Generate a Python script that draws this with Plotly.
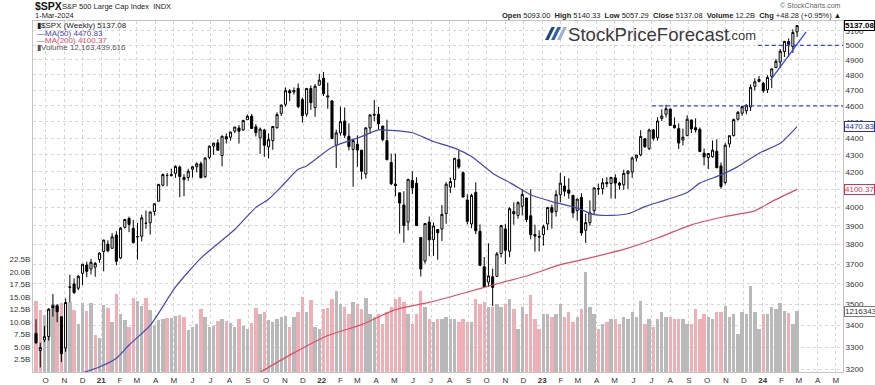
import math
import pandas as pd
import plotly.graph_objects as go

# ---------------- data (weekly) ----------------
week_end = pd.date_range("2020-09-18", "2024-03-01", freq="W-FRI")
prev_close_before = 3341.0

opens_2020 = [3363, 3285, 3333, 3349, 3493, 3493, 3441, 3296, 3583, 3600, 3579, 3653, 3695, 3675, 3684, 3723]
highs_2020 = [3429, 3320, 3398, 3482, 3550, 3502, 3441, 3529, 3646, 3628, 3645, 3699, 3712, 3726, 3711, 3760]
lows_2020 = [3317, 3209, 3323, 3330, 3441, 3415, 3233, 3279, 3511, 3550, 3569, 3594, 3634, 3647, 3636, 3707]
closes_2020 = [3319, 3298, 3348, 3477, 3484, 3465, 3270, 3509, 3585, 3558, 3638, 3699, 3663, 3709, 3703, 3756]

opens_2021 = [3764, 3803, 3781, 3851, 3731, 3892, 3939, 3886, 3842, 3844, 3914, 3916, 3977, 4034, 4124, 4179,
              4185, 4192, 4228, 4169, 4168, 4216, 4230, 4248, 4173, 4285, 4352, 4372, 4296, 4409, 4406, 4443,
              4462, 4450, 4513, 4535, 4469, 4402, 4449, 4348, 4385, 4463, 4553, 4610, 4697, 4689, 4712, 4640,
              4548, 4711, 4589, 4733]
highs_2021 = [3826, 3823, 3861, 3871, 3894, 3937, 3950, 3932, 3915, 3960, 3983, 3975, 4020, 4130, 4191, 4195,
              4219, 4238, 4237, 4187, 4218, 4234, 4256, 4261, 4287, 4355, 4372, 4393, 4415, 4429, 4440, 4468,
              4480, 4510, 4545, 4549, 4486, 4465, 4457, 4429, 4475, 4559, 4608, 4718, 4707, 4718, 4744, 4652,
              4713, 4731, 4740, 4808]
lows_2021 = [3663, 3760, 3781, 3694, 3725, 3885, 3866, 3805, 3723, 3817, 3884, 3853, 3955, 4034, 4118, 4118,
             4173, 4166, 4057, 4062, 4149, 4168, 4198, 4165, 4165, 4274, 4300, 4327, 4233, 4368, 4385, 4431,
             4367, 4444, 4513, 4457, 4410, 4306, 4288, 4278, 4330, 4460, 4537, 4595, 4630, 4672, 4585, 4495,
             4532, 4575, 4531, 4733]
closes_2021 = [3824, 3768, 3841, 3714, 3887, 3934, 3907, 3811, 3842, 3943, 3913, 3975, 4020, 4129, 4185, 4180,
               4181, 4232, 4174, 4156, 4204, 4230, 4247, 4166, 4281, 4352, 4370, 4327, 4412, 4395, 4437, 4468,
               4442, 4509, 4535, 4459, 4433, 4455, 4357, 4391, 4471, 4545, 4605, 4697, 4683, 4698, 4595, 4538,
               4712, 4620, 4726, 4766]

opens_2022 = [4778, 4656, 4632, 4357, 4432, 4505, 4412, 4332, 4363, 4328, 4188, 4462, 4541, 4547, 4474, 4385,
              4255, 4130, 4081, 4013, 3920, 4151, 4135, 3838, 3715, 3920, 3826, 3880, 3883, 3966, 4113, 4157,
              4272, 4196, 4041, 3910, 4083, 3871, 3686, 3609, 3636, 3638, 3754, 3883, 3766, 3978, 3956, 4006,
              4052, 3954, 3854, 3843]
highs_2022 = [4819, 4749, 4632, 4453, 4595, 4590, 4490, 4395, 4417, 4329, 4465, 4546, 4637, 4594, 4474, 4513,
              4308, 4308, 4082, 4090, 4158, 4204, 4169, 3838, 3913, 3950, 3918, 3880, 4013, 4141, 4167, 4281,
              4325, 4203, 4073, 4076, 4140, 3907, 3736, 3807, 3677, 3762, 3905, 3911, 4001, 4028, 4034, 4101,
              4052, 4101, 3906, 3876]
lows_2022 = [4663, 4582, 4395, 4223, 4415, 4401, 4327, 4115, 4230, 4157, 4162, 4425, 4503, 4450, 4381, 4267,
             4124, 4062, 3859, 3811, 3875, 4074, 3900, 3637, 3702, 3740, 3742, 3722, 3819, 3911, 4080, 4110,
             4218, 4057, 3907, 3887, 3856, 3694, 3585, 3585, 3492, 3634, 3734, 3699, 3735, 3906, 3938, 3956,
             3919, 3828, 3764, 3765]
closes_2022 = [4677, 4663, 4398, 4432, 4501, 4418, 4349, 4385, 4329, 4204, 4463, 4543, 4546, 4488, 4392, 4272,
               4132, 4123, 4024, 3901, 4158, 4109, 3901, 3675, 3912, 3825, 3899, 3863, 3962, 4130, 4145, 4280,
               4228, 4057, 3924, 4067, 3873, 3693, 3586, 3640, 3583, 3752, 3901, 3771, 3993, 3965, 4026, 4072,
               3934, 3852, 3845, 3840]

opens_2023 = [3853, 3910, 3999, 3978, 4070, 4119, 4097, 4067, 3982, 4055, 3876, 3917, 3982, 4102, 4105, 4140,
              4134, 4166, 4136, 4126, 4190, 4200, 4282, 4300, 4396, 4337, 4450, 4404, 4521, 4547, 4580, 4479,
              4458, 4389, 4415, 4511, 4464, 4454, 4310, 4284, 4289, 4321, 4235, 4139, 4365, 4415, 4516, 4554,
              4569, 4593, 4725, 4758]
highs_2023 = [3906, 4003, 4015, 4095, 4195, 4176, 4164, 4067, 4049, 4079, 3965, 4039, 4110, 4133, 4164, 4170,
              4170, 4187, 4143, 4213, 4210, 4290, 4299, 4448, 4401, 4458, 4456, 4528, 4578, 4607, 4584, 4527,
              4490, 4458, 4541, 4514, 4522, 4465, 4338, 4311, 4386, 4393, 4255, 4370, 4415, 4520, 4568, 4598,
              4610, 4738, 4778, 4793]
lows_2023 = [3795, 3877, 3885, 3950, 4029, 4062, 4048, 3943, 3928, 3847, 3809, 3900, 3960, 4069, 4072, 4113,
             4049, 4048, 4099, 4098, 4103, 4166, 4261, 4292, 4341, 4328, 4385, 4385, 4505, 4527, 4474, 4458,
             4335, 4356, 4414, 4431, 4434, 4316, 4238, 4217, 4283, 4223, 4104, 4128, 4344, 4411, 4507, 4537,
             4547, 4568, 4699, 4751]
closes_2023 = [3895, 3999, 3973, 4071, 4136, 4090, 4079, 3970, 4046, 3862, 3917, 3971, 4109, 4105, 4138, 4133,
               4169, 4136, 4124, 4192, 4205, 4282, 4299, 4410, 4348, 4450, 4399, 4505, 4536, 4582, 4478, 4464,
               4370, 4406, 4516, 4457, 4450, 4320, 4288, 4308, 4328, 4224, 4117, 4358, 4415, 4514, 4559, 4595,
               4604, 4719, 4755, 4770]

opens_2024 = [4745, 4703, 4791, 4849, 4886, 4957, 5026, 4990, 5093.00]
highs_2024 = [4754, 4798, 4842, 4907, 4975, 5030, 5048, 5111, 5140.33]
lows_2024 = [4683, 4682, 4714, 4845, 4845, 4920, 4920, 4947, 5057.29]
closes_2024 = [4697, 4784, 4840, 4891, 4959, 5027, 5006, 5089, 5137.08]

# weekly volume, billions of shares
volume_2020 = [14.2, 12.3, 11.4, 12.5, 13.5, 13.4, 13.7, 13.9, 14.0, 12.4, 9.5, 13.8, 12.2, 13.8, 7.4, 6.7]
volume_2021 = [13.3, 12.7, 10.0, 15.6, 11.6, 10.4, 9.0, 14.7, 14.2, 13.2, 14.7, 12.4, 9.4, 10.3, 10.5, 10.7,
               10.8, 11.2, 11.4, 11.0, 8.3, 9.0, 9.6, 12.5, 11.0, 9.0, 9.2, 10.1, 10.6, 10.2, 9.7, 9.0,
               10.5, 9.2, 8.5, 9.8, 12.8, 11.5, 12.0, 10.4, 10.0, 10.5, 11.0, 11.2, 9.0, 11.0, 12.0, 15.0,
               12.0, 14.4, 9.0, 8.5]
volume_2022 = [12.5, 12.8, 14.5, 16.1, 13.5, 13.0, 11.5, 14.0, 13.5, 12.5, 14.8, 11.5, 11.0, 11.5, 9.5, 12.0,
               13.0, 14.5, 15.0, 14.0, 11.5, 9.5, 11.5, 16.2, 13.0, 10.5, 10.0, 10.5, 10.5, 11.0, 10.5, 10.5,
               10.0, 10.5, 10.0, 10.0, 14.5, 13.5, 14.0, 13.0, 13.0, 13.5, 13.0, 13.5, 14.5, 12.5, 8.5, 13.0,
               11.5, 15.4, 10.5, 8.5]
volume_2023 = [11.5, 11.5, 11.0, 11.5, 13.5, 11.0, 12.0, 10.0, 11.0, 12.5, 20.0, 13.0, 11.5, 8.5, 9.5, 10.0,
               10.5, 10.5, 9.5, 11.0, 10.5, 12.0, 11.0, 14.1, 9.5, 10.5, 9.0, 10.5, 12.0, 11.0, 11.0, 10.5,
               10.5, 10.5, 9.5, 9.5, 12.5, 10.5, 11.5, 11.0, 10.5, 12.0, 12.0, 13.1, 11.0, 11.5, 7.5, 12.0,
               11.5, 17.1, 12.0, 8.5]
volume_2024 = [11.5, 11.5, 13.0, 12.5, 13.8, 12.1, 11.8, 9.5, 12.16]

# moving averages
ma50_dates = ["2020-11-27", "2021-01-01", "2021-01-29", "2021-02-19", "2021-03-26", "2021-05-07", "2021-06-18",
              "2021-08-13", "2021-09-17", "2021-10-08", "2021-10-29", "2021-11-26", "2021-12-10", "2022-01-21",
              "2022-03-11", "2022-04-08", "2022-04-29", "2022-06-03", "2022-07-08", "2022-08-12", "2022-09-09",
              "2022-10-14", "2022-11-18", "2022-12-16", "2023-01-20", "2023-03-03", "2023-03-31", "2023-04-28",
              "2023-05-26", "2023-06-23", "2023-07-28", "2023-09-01", "2023-09-22", "2023-10-27", "2023-11-24",
              "2023-12-29", "2024-02-02", "2024-03-01"]
ma50_vals = [3180, 3211, 3250, 3310, 3400, 3585, 3730, 3880, 4000, 4045, 4115, 4215, 4235, 4345, 4410, 4450,
             4447, 4433, 4380, 4340, 4290, 4193, 4126, 4070, 4032, 3996, 3960, 3956, 3965, 4004, 4042, 4083,
             4136, 4183, 4231, 4310, 4369, 4470.83]
ma200_dates = ["2021-09-24", "2021-11-19", "2022-01-14", "2022-03-11", "2022-05-06", "2022-07-01", "2022-07-29",
               "2022-09-30", "2022-12-16", "2023-02-03", "2023-03-17", "2023-05-26", "2023-07-14", "2023-09-08",
               "2023-11-03", "2023-12-22", "2024-01-19", "2024-03-01"]
ma200_vals = [3188, 3274, 3353, 3404, 3475, 3510, 3531, 3583, 3646, 3697, 3726, 3782, 3835, 3905, 3950, 3981,
              4032, 4100.37]

# drawn annotations (levels and trend line)
level_5000 = (["2023-12-27", "2024-05-16"], [5000, 5000])
level_4600 = (["2023-07-05", "2024-05-16"], [4600, 4600])
trend_dates = ["2024-01-17", "2024-03-16"]
trend_vals = [4766, 5093]

price_ticks = list(range(3200, 5200, 100))
vol_ticks = [2.5, 5.0, 7.5, 10.0, 12.5, 15.0, 17.5, 20.0, 22.5]

# ---------------- assemble ----------------
opens = opens_2020 + opens_2021 + opens_2022 + opens_2023 + opens_2024
highs = highs_2020 + highs_2021 + highs_2022 + highs_2023 + highs_2024
lows = lows_2020 + lows_2021 + lows_2022 + lows_2023 + lows_2024
closes = closes_2020 + closes_2021 + closes_2022 + closes_2023 + closes_2024
volumes = volume_2020 + volume_2021 + volume_2022 + volume_2023 + volume_2024

prev = [prev_close_before] + closes[:-1]
vol_colors = ["#eeb0b6" if c < p else "#b9b9b9" for c, p in zip(closes, prev)]

W, H = 875, 385
L, R, T, B = 33, 32, 21, 13
PW, PH = W - L - R, H - T - B


def px_x(px):
    return (px - L) / PW


def px_y(py):
    return (H - B - py) / PH


FONT = "Liberation Sans, Arial, sans-serif"

fig = go.Figure()

fig.add_trace(go.Bar(x=week_end, y=volumes, marker=dict(color=vol_colors, line=dict(width=0)),
                     width=5.6 * 24 * 3600 * 1000, yaxis="y", hoverinfo="skip"))

fig.add_trace(go.Candlestick(x=week_end, open=opens, high=highs, low=lows, close=closes, yaxis="y2",
                             increasing=dict(line=dict(color="#000000", width=1), fillcolor="#ffffff"),
                             decreasing=dict(line=dict(color="#000000", width=1), fillcolor="#000000"),
                             whiskerwidth=0))

fig.add_trace(go.Scatter(x=pd.to_datetime(ma50_dates), y=ma50_vals, mode="lines", yaxis="y2",
                         line=dict(color="#4646b4", width=1.2, shape="spline", smoothing=0.6)))
fig.add_trace(go.Scatter(x=pd.to_datetime(ma200_dates), y=ma200_vals, mode="lines", yaxis="y2",
                         line=dict(color="#e34963", width=1.2, shape="spline", smoothing=0.6)))

for lv in (level_5000, level_4600):
    fig.add_trace(go.Scatter(x=pd.to_datetime(lv[0]), y=lv[1], mode="lines", yaxis="y2",
                             line=dict(color="#3545f0", width=1.2, dash="4px,3px")))
fig.add_trace(go.Scatter(x=pd.to_datetime(trend_dates), y=trend_vals, mode="lines", yaxis="y2",
                         line=dict(color="#3545f0", width=1.3)))

# month ticks
months = pd.date_range("2020-10-01", "2024-05-01", freq="MS")
tickvals = months + pd.Timedelta(days=3)
ticktext = [("<b>%s</b>" % m.strftime("%y")) if m.month == 1 else m.strftime("%b")[0] for m in months]

fig.update_layout(
    width=W, height=H, margin=dict(l=L, r=R, t=T, b=B, autoexpand=False),
    paper_bgcolor="white", plot_bgcolor="white", showlegend=False,
    font=dict(family=FONT, size=8, color="#333333"),
    bargap=0,
    xaxis=dict(type="date", range=["2020-09-13", "2024-05-16"], tickvals=tickvals, ticktext=ticktext,
               showgrid=True, gridcolor="#d6d6d6", griddash="dot", gridwidth=1, ticks="", automargin=False,
               tickfont=dict(size=8, color="#333333"), showline=True, linecolor="#c4c4c4", mirror=True,
               rangeslider=dict(visible=False), zeroline=False, ticklabeloverflow="allow"),
    yaxis=dict(range=[0, 70], side="left", tickvals=vol_ticks, ticktext=["%.1fB" % v for v in vol_ticks],
               showgrid=False, ticks="", tickfont=dict(size=8, color="#333333"), zeroline=False,
               showline=True, linecolor="#c4c4c4", automargin=False, ticklabeloverflow="allow"),
    yaxis2=dict(type="log", overlaying="y", side="right", range=[math.log10(3189), math.log10(5170)],
                tickvals=price_ticks, ticktext=[str(v) for v in price_ticks], showgrid=True,
                gridcolor="#d6d6d6", griddash="dot", gridwidth=1, ticks="", automargin=False,
                tickfont=dict(size=8, color="#333333"), zeroline=False, showline=True, linecolor="#c4c4c4",
                ticklabeloverflow="allow"),
)

ann = []


def text(px, py, s, size=8, color="#222222", xanchor="left", yanchor="middle", family=FONT):
    ann.append(dict(xref="paper", yref="paper", x=px_x(px), y=px_y(py), text=s, showarrow=False,
                    xanchor=xanchor, yanchor=yanchor, font=dict(size=size, color=color, family=family)))


# header
text(33, 6, "<b>$SPX</b>", size=10.5, color="#111111")
text(60, 6.5, "S&P 500 Large Cap Index  INDX", size=7.5, color="#222222")
text(33, 15.5, "1-Mar-2024", size=7.5, color="#222222")
text(843, 5.5, "© StockCharts.com", size=7, color="#666666", xanchor="right")
text(843, 15.5, "<b>Open</b> 5093.00  <b>High</b> 5140.33  <b>Low</b> 5057.29  <b>Close</b> 5137.08  "
     "<b>Volume</b> 12.2B  <b>Chg</b> +48.28 (+0.95%) ▲", size=7.5, color="#222222", xanchor="right")

# in-chart legend
text(35, 25.5, "▮$SPX (Weekly) 5137.08", size=8, color="#222222")
text(35, 33, "<span style='color:#4646b4'>—MA(50) 4470.83</span>", size=8)
text(35, 40.5, "<span style='color:#e34963'>—MA(200) 4100.37</span>", size=8)
text(35, 48, "<span style='color:#555555'>▮Volume 12,163,439,616</span>", size=8)

# logo watermark
text(566, 34, "StockPriceForecast", size=18.6, color="#3a3a3a")
text(726, 36, ".com", size=13, color="#3a3a3a")

shapes = []
slash_cols = ["#24467f", "#2f5fa0", "#9db3d0"]
for i, col in enumerate(slash_cols):
    x0 = 545 + 6 * i
    pts = [(x0, 40), (x0 + 3.5, 40), (x0 + 10, 27), (x0 + 6.5, 27)]
    path = "M " + " L ".join("%.4f,%.4f" % (px_x(a), px_y(b)) for a, b in pts) + " Z"
    shapes.append(dict(type="path", xref="paper", yref="paper", path=path, fillcolor=col,
                       line=dict(width=0)))

# value boxes on right axis
for val, col, txt in [(5137.08, "#000000", "<b>5137.08</b>"), (4470.83, "#3030a0", "4470.83"),
                      (4100.37, "#d8314f", "4100.37")]:
    ann.append(dict(xref="paper", yref="y2", x=px_x(844), y=math.log10(val), text=txt, showarrow=False,
                    xanchor="left", yanchor="middle", font=dict(size=8, color=col, family=FONT),
                    bgcolor="white", bordercolor=col, borderwidth=1, borderpad=0))
ann.append(dict(xref="paper", yref="y", x=px_x(844), y=volumes[-1], text="12163439616", showarrow=False,
                xanchor="left", yanchor="middle", font=dict(size=8, color="#333333", family=FONT),
                bgcolor="white", bordercolor="#777777", borderwidth=1, borderpad=0))

fig.update_layout(annotations=ann, shapes=shapes)
fig.write_html("out.html", config={"displayModeBar": False},
               post_script="document.body.style.margin='0';document.body.style.overflow='hidden';")
